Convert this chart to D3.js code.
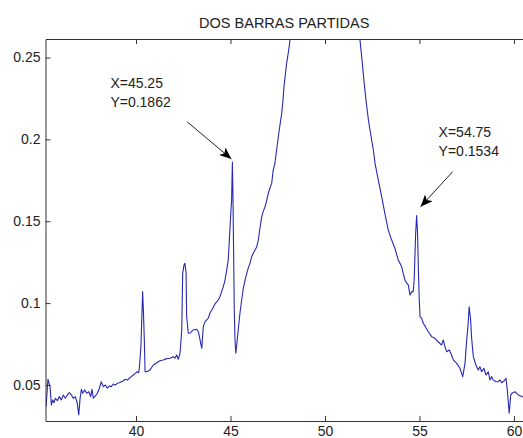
<!DOCTYPE html>
<html>
<head>
<meta charset="utf-8">
<script src="https://cdn.jsdelivr.net/npm/d3@7"></script>
<style>
  body { margin: 0; background: #fff; }
  svg { display: block; }
  text { font-family: "Liberation Sans", Arial, sans-serif; fill: #222; }
  .axis path, .axis line { stroke: #333; }
</style>
</head>
<body>
<div id="chart"></div>
<script>
var svgWidth = 523;
var svgHeight = 438;

var title = "DOS BARRAS PARTIDAS";

// spectrum
var xValues = [
  35.24, 35.34, 35.45, 35.52, 35.59, 35.66, 35.73, 35.84, 35.94, 36.05,
  36.15, 36.26, 36.37, 36.47, 36.58, 36.68, 36.79, 36.89, 36.97, 37.04,
  37.11, 37.18, 37.29, 37.39, 37.50, 37.60, 37.67, 37.74, 37.85, 37.95,
  38.06, 38.16, 38.27, 38.38, 38.48, 38.59, 38.69, 38.80, 38.90, 39.01,
  39.12, 39.22, 39.33, 39.43, 39.54, 39.65, 39.75, 39.86, 39.96, 40.07,
  40.14, 40.17, 40.26, 40.35, 40.39, 40.44, 40.48, 40.57, 40.74, 40.92,
  41.10, 41.27, 41.44, 41.62, 41.80, 41.97, 42.06, 42.15, 42.24, 42.33,
  42.42, 42.47, 42.54, 42.59, 42.65, 42.68, 42.77, 42.86, 43.03, 43.21,
  43.30, 43.39, 43.48, 43.56, 43.65, 43.74, 43.83, 43.92, 44.01, 44.18,
  44.35, 44.44, 44.53, 44.62, 44.71, 44.80, 44.88, 44.94, 45.01, 45.06,
  45.10, 45.13, 45.17, 45.20, 45.24, 45.28, 45.33, 45.41, 45.50, 45.59,
  45.68, 45.77, 45.86, 45.94, 46.03, 46.12, 46.21, 46.30, 46.39, 46.47,
  46.56, 46.65, 46.74, 46.83, 46.92, 47.00, 47.09, 47.18, 47.26, 47.35,
  47.44, 47.51, 47.58, 47.71, 47.78, 47.83, 47.90, 47.97, 48.08, 48.15,
  48.25, 48.5, 49.0, 49.5, 50.0, 50.5, 51.0, 51.5, 51.75, 51.85,
  51.96, 52.06, 52.17, 52.30, 52.47, 52.56, 52.65, 52.82, 53.00, 53.17,
  53.35, 53.53, 53.70, 53.88, 54.06, 54.23, 54.32, 54.41, 54.50, 54.59,
  54.67, 54.72, 54.80, 54.85, 54.90, 54.94, 54.99, 55.03, 55.12, 55.20,
  55.29, 55.47, 55.65, 55.82, 55.99, 56.17, 56.26, 56.35, 56.44, 56.58,
  56.70, 56.79, 56.97, 57.14, 57.29, 57.41, 57.50, 57.58, 57.63, 57.71,
  57.76, 57.85, 57.99, 58.11, 58.20, 58.29, 58.41, 58.52, 58.64, 58.73,
  58.82, 58.90, 59.05, 59.17, 59.26, 59.35, 59.47, 59.58, 59.65, 59.75,
  59.83, 59.89, 60.05, 60.23, 60.41, 60.53
];

var yValues = [
  0.0368, 0.0535, 0.0490, 0.0378, 0.0409, 0.0392, 0.0419, 0.0404, 0.0429, 0.0409,
  0.0439, 0.0419, 0.0439, 0.0453, 0.0439, 0.0419, 0.0429, 0.0388, 0.0317, 0.0419,
  0.0474, 0.0449, 0.0470, 0.0449, 0.0459, 0.0429, 0.0474, 0.0419, 0.0433, 0.0449,
  0.0480, 0.0520, 0.0490, 0.0500, 0.0480, 0.0494, 0.0490, 0.0506, 0.0500, 0.0510,
  0.0514, 0.0520, 0.0526, 0.0535, 0.0530, 0.0541, 0.0551, 0.0561, 0.0571, 0.0581,
  0.0575, 0.0596, 0.0734, 0.1070, 0.0958, 0.0775, 0.0581, 0.0581, 0.0592, 0.0622,
  0.0636, 0.0648, 0.0653, 0.0661, 0.0663, 0.0673, 0.0663, 0.0683, 0.0657, 0.0694,
  0.0836, 0.1182, 0.1233, 0.1243, 0.1182, 0.0917, 0.0816, 0.0817, 0.0836, 0.0840,
  0.0824, 0.0775, 0.0724, 0.0856, 0.0885, 0.0897, 0.0909, 0.0941, 0.0958, 0.0995,
  0.1019, 0.1039, 0.1070, 0.1100, 0.1141, 0.1202, 0.1263, 0.1385, 0.1538, 0.1629,
  0.1862, 0.1660, 0.1263, 0.0958, 0.0775, 0.0694, 0.0744, 0.0836, 0.0938, 0.1019,
  0.1092, 0.1141, 0.1182, 0.1214, 0.1243, 0.1283, 0.1306, 0.1324, 0.1344, 0.1385,
  0.1458, 0.1527, 0.1562, 0.1589, 0.1629, 0.1670, 0.1703, 0.1731, 0.1813, 0.1854,
  0.1935, 0.1996, 0.2057, 0.2159, 0.2240, 0.2321, 0.2393, 0.2464, 0.2545, 0.2606,
  0.2700, 0.3000, 0.3600, 0.4000, 0.4200, 0.4000, 0.3600, 0.3000, 0.2700, 0.2612,
  0.2484, 0.2362, 0.2240, 0.2118, 0.1996, 0.1935, 0.1853, 0.1752, 0.1650, 0.1548,
  0.1446, 0.1385, 0.1335, 0.1263, 0.1222, 0.1141, 0.1123, 0.1111, 0.1049, 0.1070,
  0.1070, 0.1141, 0.1426, 0.1534, 0.1426, 0.1222, 0.1019, 0.0917, 0.0907, 0.0877,
  0.0860, 0.0825, 0.0795, 0.0785, 0.0764, 0.0744, 0.0775, 0.0734, 0.0703, 0.0714,
  0.0683, 0.0653, 0.0632, 0.0602, 0.0551, 0.0632, 0.0775, 0.0877, 0.0978, 0.0897,
  0.0787, 0.0673, 0.0622, 0.0592, 0.0612, 0.0581, 0.0602, 0.0561, 0.0581, 0.0531,
  0.0551, 0.0531, 0.0520, 0.0520, 0.0531, 0.0514, 0.0524, 0.0541, 0.0469, 0.0327,
  0.0439, 0.0449, 0.0459, 0.0439, 0.0429, 0.0427
];

var xTicks = [40, 45, 50, 55, 60];
var yTicks = [0.05, 0.1, 0.15, 0.2, 0.25];

// data tips: point, text lines, and where the text/arrow sit (pixel offsets)
var tips = [
  { x: 45.10, y: 0.1862, lines: ["X=45.25", "Y=0.1862"] },
  { x: 54.85, y: 0.1534, lines: ["X=54.75", "Y=0.1534"] }
];
var tipLayout = [
  { tx: -122, ty: -74, ax: -45, ay: -40, tipGap: [-1, -3] },
  { tx: 22, ty: -79, ax: 36, ay: -44, tipGap: [4, -9] }
];

var plot = { left: 45.5, top: 39, right: 523, bottom: 421 };

var svg = d3.select("#chart")
  .append("svg")
  .attr("width", svgWidth)
  .attr("height", svgHeight);

var xScale = d3.scaleLinear()
  .domain([35.21, 60.48])
  .range([plot.left, plot.right]);

var yScale = d3.scaleLinear()
  .domain([0.028, 0.2613])
  .range([plot.bottom, plot.top]);

svg.append("defs").append("clipPath")
  .attr("id", "clip")
  .append("rect")
  .attr("x", plot.left)
  .attr("y", plot.top)
  .attr("width", plot.right - plot.left)
  .attr("height", plot.bottom - plot.top);

var points = xValues.map((d, i) => [d, yValues[i]]);

var line = d3.line()
  .x(d => xScale(d[0]))
  .y(d => yScale(d[1]));

svg.append("path")
  .datum(points)
  .attr("clip-path", "url(#clip)")
  .attr("d", line)
  .attr("fill", "none")
  .attr("stroke", "#2828b4")
  .attr("stroke-width", 1.1)
  .attr("stroke-linejoin", "round");

// axes, ticks pointing inward like matlab
var bottomAxis = d3.axisBottom(xScale).tickValues(xTicks).tickSize(-5).tickPadding(5).tickSizeOuter(0);
var topAxis = d3.axisTop(xScale).tickValues(xTicks).tickSize(-5).tickFormat("").tickSizeOuter(0);
var leftAxis = d3.axisLeft(yScale).tickValues(yTicks).tickSize(-5).tickPadding(5).tickSizeOuter(0)
  .tickFormat(d => String(+d.toFixed(2)));

svg.append("g")
  .attr("class", "axis")
  .attr("transform", `translate(0, ${plot.bottom})`)
  .call(bottomAxis);

svg.append("g")
  .attr("class", "axis")
  .attr("transform", `translate(0, ${plot.top})`)
  .call(topAxis);

svg.append("g")
  .attr("class", "axis")
  .attr("transform", `translate(${plot.left}, 0)`)
  .call(leftAxis);

svg.selectAll(".axis text")
  .attr("font-size", "14px")
  .attr("font-family", "Liberation Sans, Arial, sans-serif")
  .attr("fill", "#222");

svg.append("text")
  .attr("x", (plot.left + plot.right) / 2)
  .attr("y", 28)
  .attr("text-anchor", "middle")
  .attr("font-size", "14.5px")
  .text(title);

// arrow annotations
svg.select("defs").append("marker")
  .attr("id", "head")
  .attr("viewBox", "0 0 12 10")
  .attr("refX", 12)
  .attr("refY", 5)
  .attr("markerWidth", 12)
  .attr("markerHeight", 10)
  .attr("markerUnits", "userSpaceOnUse")
  .attr("orient", "auto")
  .append("path")
  .attr("d", "M0,0 L12,5 L0,10 L3,5 Z")
  .attr("fill", "#000");

tips.forEach(function(t, i) {
  var px = xScale(t.x);
  var py = yScale(t.y);
  var l = tipLayout[i];

  svg.append("line")
    .attr("x1", px + l.ax)
    .attr("y1", py + l.ay)
    .attr("x2", px + l.tipGap[0])
    .attr("y2", py + l.tipGap[1])
    .attr("stroke", "#222")
    .attr("stroke-width", 1)
    .attr("marker-end", "url(#head)");

  var label = svg.append("text")
    .attr("font-size", "14px")
    .attr("x", px + l.tx)
    .attr("y", py + l.ty);

  label.selectAll("tspan")
    .data(t.lines)
    .enter()
    .append("tspan")
    .attr("x", px + l.tx)
    .attr("dy", (d, j) => j === 0 ? 0 : 19)
    .text(d => d);
});
</script>
</body>
</html>
